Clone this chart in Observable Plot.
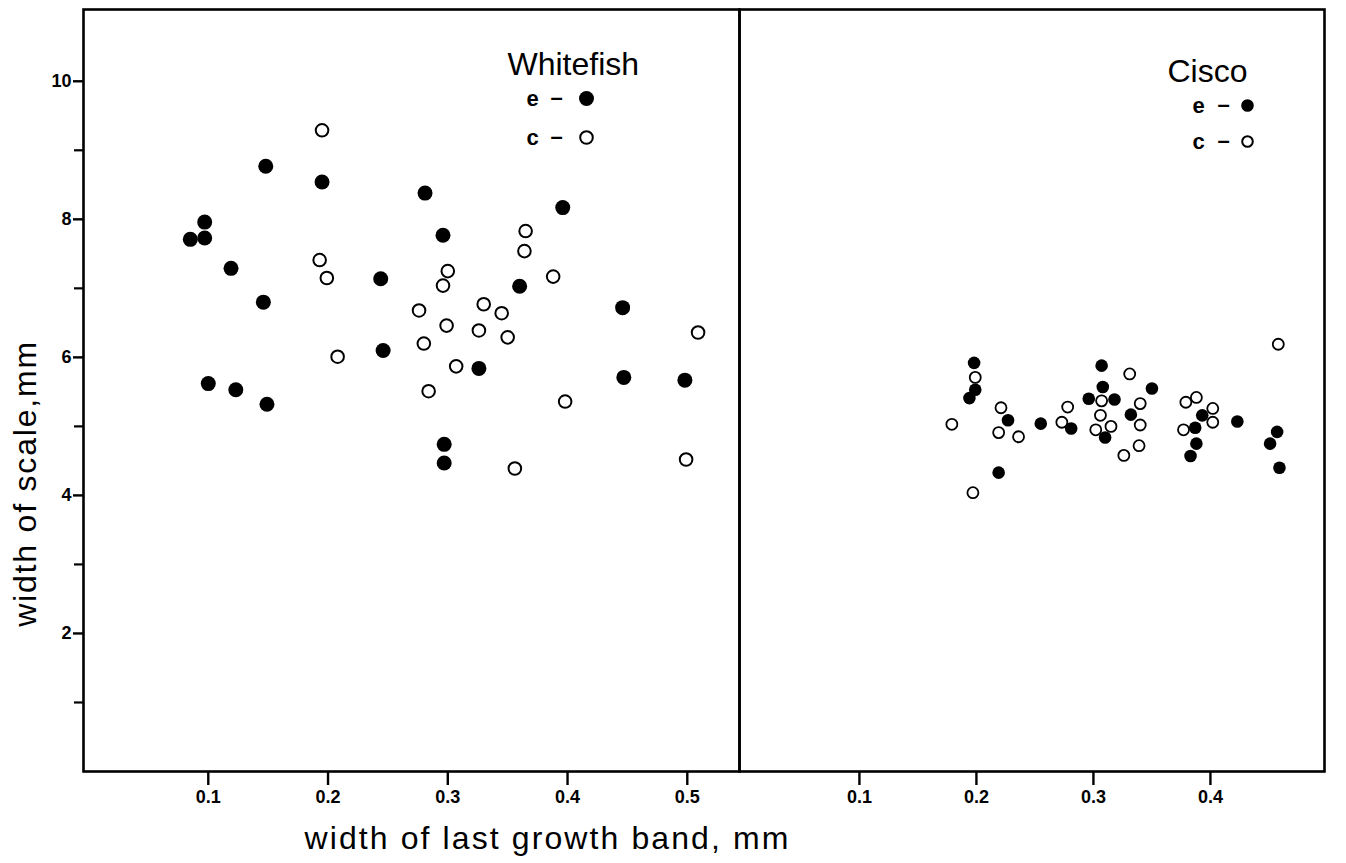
<!DOCTYPE html>
<html>
<head>
<meta charset="utf-8">
<script src="https://cdn.jsdelivr.net/npm/d3@7"></script>
<script src="https://cdn.jsdelivr.net/npm/@observablehq/plot@0.6"></script>
<style>
  html, body { margin: 0; padding: 0; background: #fff; }
  #wrap { position: relative; width: 1346px; height: 863px; overflow: hidden; }
  #wrap svg { position: absolute; top: 0; overflow: visible; }
</style>
</head>
<body>
<div id="wrap"></div>
<script>
// ---------- data ----------
const panelTitles = ["Whitefish", "Cisco"];
const legendKeys = ["e", "c"];
const legendDash = "–";
const yTitle = "width of scale,mm";
const xTitle = "width of last growth band, mm";

const yTicks = [2, 4, 6, 8, 10];
const yMinorTicks = [1, 3, 5, 7, 9];
const xTicksWhitefish = [0.1, 0.2, 0.3, 0.4, 0.5];
const xTicksCisco = [0.1, 0.2, 0.3, 0.4];

// [width of last growth band, width of scale]
const whitefishE = [
  [0.085, 7.71], [0.097, 7.96], [0.097, 7.73], [0.119, 7.29], [0.148, 8.77],
  [0.146, 6.80], [0.195, 8.54], [0.281, 8.38], [0.296, 7.77], [0.244, 7.14],
  [0.246, 6.10], [0.100, 5.62], [0.123, 5.53], [0.149, 5.32], [0.297, 4.74],
  [0.297, 4.47], [0.396, 8.17], [0.360, 7.03], [0.446, 6.72], [0.326, 5.84],
  [0.447, 5.71], [0.498, 5.67]
];
const whitefishC = [
  [0.195, 9.29], [0.193, 7.41], [0.199, 7.15], [0.208, 6.01], [0.276, 6.68],
  [0.280, 6.20], [0.284, 5.51], [0.365, 7.83], [0.364, 7.54], [0.388, 7.17],
  [0.300, 7.25], [0.296, 7.04], [0.330, 6.77], [0.345, 6.64], [0.299, 6.46],
  [0.326, 6.39], [0.350, 6.29], [0.307, 5.87], [0.509, 6.36], [0.398, 5.36],
  [0.356, 4.39], [0.499, 4.52]
];
const ciscoE = [
  [0.198, 5.92], [0.199, 5.53], [0.194, 5.41], [0.227, 5.09], [0.219, 4.33],
  [0.255, 5.04], [0.281, 4.97], [0.296, 5.40], [0.307, 5.88], [0.308, 5.57],
  [0.318, 5.39], [0.310, 4.84], [0.332, 5.17], [0.350, 5.55], [0.393, 5.16],
  [0.387, 4.98], [0.388, 4.75], [0.383, 4.57], [0.423, 5.07], [0.457, 4.92],
  [0.451, 4.75], [0.459, 4.40]
];
const ciscoC = [
  [0.179, 5.03], [0.199, 5.71], [0.197, 4.04], [0.221, 5.27], [0.219, 4.91],
  [0.236, 4.85], [0.278, 5.28], [0.273, 5.06], [0.307, 5.37], [0.306, 5.16],
  [0.302, 4.95], [0.315, 5.00], [0.331, 5.76], [0.340, 5.33], [0.340, 5.02],
  [0.339, 4.72], [0.326, 4.58], [0.379, 5.35], [0.388, 5.42], [0.402, 5.26],
  [0.402, 5.06], [0.377, 4.95], [0.458, 6.19]
];

// ---------- layout ----------
const FONT = "'Liberation Sans', Arial, Helvetica, sans-serif";
const H = 863, MT = 9, MB = 92;
const yDomain = [0, 11.04];
const fmt = d => String(d);

function legend(title, o) {
  const key = {frameAnchor: "top-left", text: d => d, fontSize: 22, fontWeight: "bold",
    textAnchor: "middle", lineAnchor: "middle", fill: "black"};
  return [
    Plot.text([title], {frameAnchor: "top-left", dx: o.tx, dy: o.ty, text: d => d,
      fontSize: o.tfs, textAnchor: "start", lineAnchor: "middle", fill: "black"}),
    Plot.text([legendKeys[0]], {...key, dx: o.kx, dy: o.r1}),
    Plot.text([legendKeys[1]], {...key, dx: o.kx, dy: o.r2}),
    Plot.text([legendDash], {...key, dx: o.ddx, dy: o.r1 - 1}),
    Plot.text([legendDash], {...key, dx: o.ddx, dy: o.r2 - 1}),
    Plot.dot([legendKeys[0]], {frameAnchor: "top-left", dx: o.dotx, dy: o.r1, r: o.rf, fill: "black", stroke: "none"}),
    Plot.dot([legendKeys[1]], {frameAnchor: "top-left", dx: o.dotx, dy: o.r2, r: o.ro, fill: "white", stroke: "black", strokeWidth: 2})
  ];
}

// Left panel: Whitefish
const left = Plot.plot({
  width: 740, height: H,
  marginLeft: 83, marginRight: 1, marginTop: MT, marginBottom: MB,
  style: {fontFamily: FONT, background: "transparent", overflow: "visible", color: "black"},
  x: {domain: [-0.0042, 0.5436], label: null},
  y: {domain: yDomain, label: null},
  marks: [
    Plot.frame({stroke: "black", strokeWidth: 2.6}),
    Plot.axisY(yTicks, {tickSize: 10, tickPadding: 2, fontSize: 18, fontWeight: "bold", tickFormat: fmt, strokeWidth: 2.4, label: null}),
    Plot.axisY(yMinorTicks, {tickSize: 9, tickFormat: () => "", strokeWidth: 2.2, label: null}),
    Plot.axisX(xTicksWhitefish, {tickSize: 14, tickPadding: 5, fontSize: 18, fontWeight: "bold", tickFormat: fmt, strokeWidth: 2.4, label: null}),
    Plot.text([yTitle], {frameAnchor: "left", dx: -58, dy: 93, rotate: -90,
      text: d => d, fontSize: 32, textAnchor: "middle", lineAnchor: "middle", fill: "black"}),
    Plot.text([xTitle], {frameAnchor: "bottom-left", dx: 221, dy: 67,
      text: d => d, fontSize: 32, textAnchor: "start", lineAnchor: "middle", fill: "black"}),
    Plot.dot(whitefishE, {x: d => d[0], y: d => d[1], r: 7.5, fill: "black", stroke: "none"}),
    Plot.dot(whitefishC, {x: d => d[0], y: d => d[1], r: 6.3, fill: "white", stroke: "black", strokeWidth: 2}),
    ...legend(panelTitles[0], {tx: 424, ty: 55, tfs: 32, kx: 449, ddx: 473, dotx: 503, r1: 89, r2: 128, rf: 7.5, ro: 6.3})
  ]
});
left.style.left = "0px";

// Right panel: Cisco
const right = Plot.plot({
  width: 607, height: H,
  marginLeft: 10, marginRight: 12, marginTop: MT, marginBottom: MB,
  style: {fontFamily: FONT, background: "transparent", overflow: "visible", color: "black"},
  x: {domain: [-0.0025, 0.4975], label: null},
  y: {domain: yDomain, label: null, axis: null},
  marks: [
    Plot.frame({stroke: "black", strokeWidth: 2.6}),
    Plot.axisX(xTicksCisco, {tickSize: 14, tickPadding: 5, fontSize: 18, fontWeight: "bold", tickFormat: fmt, strokeWidth: 2.4, label: null}),
    Plot.dot(ciscoE, {x: d => d[0], y: d => d[1], r: 6.3, fill: "black", stroke: "none"}),
    Plot.dot(ciscoC, {x: d => d[0], y: d => d[1], r: 5.5, fill: "white", stroke: "black", strokeWidth: 1.8}),
    ...legend(panelTitles[1], {tx: 428, ty: 62, tfs: 32, kx: 459, ddx: 484, dotx: 508, r1: 96, r2: 132, rf: 6.3, ro: 5.3})
  ]
});
right.style.left = "729px";

// letter spacing of the axis titles, as in the reference
d3.select(left).selectAll("text")
  .filter(function () { return this.textContent === xTitle; })
  .style("letter-spacing", "2.1px");
d3.select(left).selectAll("text")
  .filter(function () { return this.textContent === yTitle; })
  .style("letter-spacing", "1.8px");

const wrap = document.getElementById("wrap");
wrap.appendChild(left);
wrap.appendChild(right);
</script>
</body>
</html>
